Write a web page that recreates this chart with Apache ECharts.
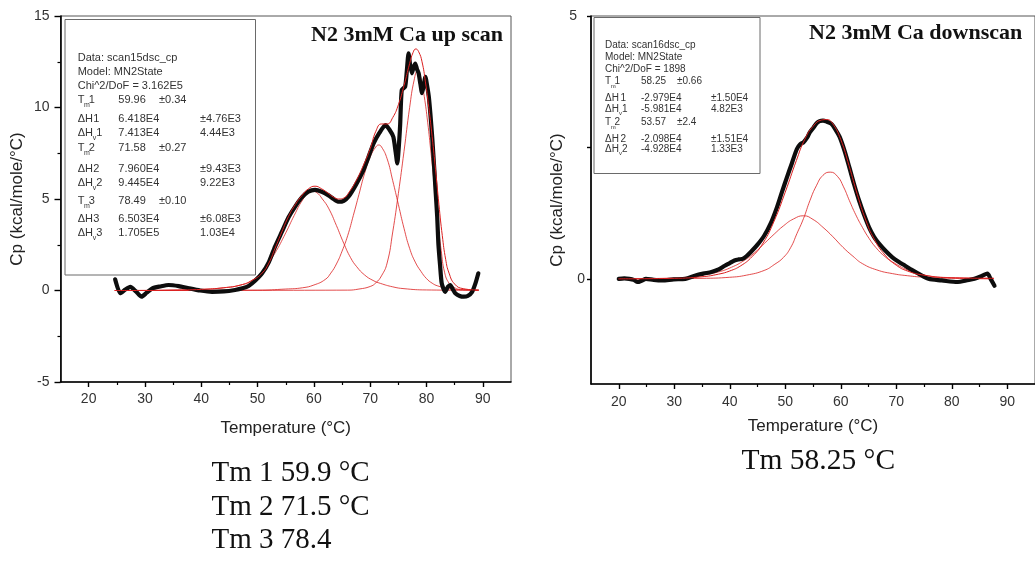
<!DOCTYPE html>
<html>
<head>
<meta charset="utf-8">
<script src="https://cdn.jsdelivr.net/npm/echarts@6/dist/echarts.min.js"></script>
<style>
  html, body { margin: 0; padding: 0; background: #fff; }
  #chart { width: 1035px; height: 563px; }
</style>
</head>
<body>
<div id="chart"></div>
<script>
// ---- Up scan (scan15): measured Cp trace, [temperature °C, Cp kcal/mole/°C] ----
const upScan = [
  [24.7,0.61],[25.6,-0.15],[26.5,0.05],[27.4,0.2],[28.4,-0.05],[29.4,-0.34],[30.3,-0.12],[31.3,0.12],
  [32.7,0.22],[34.2,0.3],[36.0,0.24],[37.8,0.12],[39.8,0.0],[41.9,-0.07],[44.0,-0.05],[46.0,0.03],
  [47.3,0.12],[48.4,0.25],[49.6,0.55],[50.8,0.94],[52.0,1.55],[53.1,2.4],[54.3,3.2],[55.5,4.0],
  [56.7,4.6],[57.9,5.1],[59.0,5.4],[60.2,5.5],[61.4,5.4],[62.6,5.2],[63.5,5.0],[64.4,4.85],
  [65.3,4.9],[66.2,5.15],[67.5,5.8],[68.8,6.58],[69.7,7.3],[70.6,8.04],[71.6,8.6],[72.7,9.04],
  [73.4,8.8],[74.1,8.4],[74.5,7.6],[74.8,6.95],[75.3,8.95],[75.6,10.96],[76.2,11.14],[76.5,12.0],
  [76.8,12.96],[77.1,12.3],[77.4,11.87],[77.7,12.2],[78.0,12.4],[78.3,12.1],[78.6,11.87],[78.9,11.3],
  [79.2,10.78],[79.5,11.2],[79.8,11.68],[80.1,11.2],[80.4,10.6],[80.7,9.6],[81.0,8.4],[81.3,7.0],
  [81.6,5.49],[81.9,4.0],[82.1,2.58],[82.4,1.4],[82.7,0.39],[83.3,-0.07],[83.8,0.2],[84.2,0.3],
  [84.7,0.05],[85.1,-0.15],[85.9,-0.3],[86.6,-0.34],[87.3,-0.3],[88.1,-0.07],[88.7,0.4],[89.2,0.94]
];

// Up scan: total MN2State fit
const upFit = [
  [24.7,0],[30,0],[35,0.02],[40,0.06],[44,0.15],[47,0.3],[49,0.55],[50.8,0.95],[52,1.5],[53.1,2.3],
  [54.3,3.2],[55.5,4.05],[56.7,4.7],[57.9,5.2],[59.0,5.55],[60.2,5.7],[61.4,5.55],[62.6,5.3],[63.5,5.1],
  [64.4,5.0],[65.3,5.05],[66.2,5.35],[67.5,6.0],[68.8,6.85],[70,7.75],[71,8.7],[72,9.1],[73,9.1],
  [74,9.45],[75,10.15],[76,11.2],[77,12.4],[77.6,13.0],[78.1,13.2],[78.6,13.05],[79.2,12.5],[79.8,11.4],
  [80.4,10.0],[81,8.4],[81.6,6.6],[82.2,4.7],[82.8,3.0],[83.4,1.7],[84,0.95],[85,0.35],[86.5,0.1],[89.2,0.02]
];

// Up scan: fitted transitions (Tm 59.96, 71.58, 78.49)
const upPeak1 = [
  [24.7,0],[35,0.02],[40,0.06],[44,0.15],[47,0.3],[49,0.55],[51,1.1],[53,2.0],[55,3.15],[56.5,4.1],
  [58,4.95],[59.4,5.45],[60.5,5.35],[61.5,5.0],[62.6,4.5],[64,3.55],[65.3,2.58],[66.5,1.8],[67.6,1.3],
  [69,0.85],[70.5,0.55],[71.8,0.39],[74,0.2],[76,0.1],[80,0.03],[89.2,0.01]
];
const upPeak2 = [
  [24.7,0],[50,0.02],[55,0.08],[58,0.15],[60,0.3],[62,0.6],[63,0.95],[64,1.45],[65,2.15],[66,3.0],
  [67,4.1],[68,5.25],[69,6.4],[70,7.3],[71,7.85],[71.5,7.95],[72,7.85],[73,7.2],[74,6.0],[75,4.7],
  [76,3.4],[77,2.3],[78,1.55],[79,1.05],[80,0.65],[81,0.4],[82,0.25],[84,0.1],[86,0.04],[89.2,0.02]
];
const upPeak3 = [
  [24.7,0],[66,0.02],[68,0.08],[70,0.22],[71,0.42],[72,0.8],[73,1.5],[74,3.2],[75,5.3],[76,7.6],
  [77,10.0],[77.8,11.5],[78.4,12.0],[79,11.6],[79.6,10.6],[80.2,9.2],[80.8,7.5],[81.4,5.7],[82,3.8],
  [82.6,2.2],[83.2,1.0],[84,0.4],[85,0.15],[86,0.06],[89.2,0.02]
];

// ---- Down scan (scan16): measured Cp trace ----
const downScan = [
  [20.0,0],[21.0,0.01],[21.9,0],[22.7,-0.02],[23.4,-0.06],[24.2,-0.03],[24.9,0],[26.3,-0.02],[27.8,-0.03],
  [29.9,-0.01],[32.0,0],[33.7,0.06],[35.2,0.1],[36.7,0.13],[38.0,0.18],[39.1,0.25],[40.0,0.3],[40.85,0.35],
  [41.6,0.37],[42.3,0.38],[43.0,0.43],[43.8,0.51],[45.0,0.65],[46.2,0.82],[47.4,1.06],[48.5,1.36],
  [49.4,1.65],[50.3,1.93],[51.2,2.2],[52.1,2.47],[52.7,2.56],[53.3,2.6],[53.9,2.68],[54.45,2.79],
  [55.1,2.88],[55.65,2.96],[56.2,3.0],[56.8,3.01],[57.5,2.99],[58.3,2.95],[59.0,2.85],[59.8,2.7],
  [60.7,2.43],[61.55,2.12],[62.4,1.8],[63.3,1.49],[64.2,1.22],[65.1,0.98],[66.0,0.8],[66.9,0.67],
  [68.1,0.53],[69.3,0.41],[70.5,0.32],[71.6,0.25],[72.8,0.17],[74.0,0.1],[75.8,0],[78.2,-0.03],
  [81.1,-0.06],[82.6,-0.03],[84.1,0],[85.5,0.06],[86.4,0.1],[87.0,0],[87.7,-0.13]
];

// Down scan: total fit
const downFit = [
  [20,0],[30,0.01],[35,0.04],[38,0.09],[40,0.15],[42,0.25],[44,0.42],[46,0.68],[48,1.1],[50,1.65],
  [52,2.25],[53.5,2.65],[55,2.9],[56.5,3.02],[57.5,3.03],[58.5,2.96],[60,2.65],[61.5,2.15],[63,1.6],
  [64.5,1.12],[66,0.76],[68,0.45],[70,0.26],[72,0.15],[75,0.07],[80,0.02],[87.5,0.01]
];

// Down scan: fitted transitions (Tm 58.25, 53.57)
const downPeak1 = [
  [20,0],[35,0.01],[40,0.03],[43,0.07],[46.2,0.16],[48,0.27],[49.7,0.41],[51,0.6],[52.1,0.86],
  [53.3,1.15],[54.45,1.49],[55.6,1.77],[56.8,1.97],[58.1,2.03],[59.4,1.95],[60.5,1.75],[61.55,1.49],
  [62.7,1.22],[63.9,0.98],[65.1,0.77],[66.3,0.6],[68,0.42],[69.85,0.29],[72,0.17],[74,0.1],[78,0.03],[87.5,0.01]
];
const downPeak2 = [
  [20,0],[28,0.01],[32.2,0.03],[35,0.07],[37.9,0.13],[40.3,0.22],[42.6,0.35],[44.5,0.5],[46.2,0.67],
  [48,0.85],[49.7,1.01],[51.5,1.14],[53.3,1.2],[55,1.13],[56.8,0.98],[58.6,0.8],[60.4,0.6],[62.2,0.43],
  [63.9,0.29],[66.5,0.17],[69.3,0.1],[72,0.06],[75.2,0.03],[80,0.01],[87.5,0]
];

// ---- Axis ticks ----
const tempMajorTicks = [20, 30, 40, 50, 60, 70, 80, 90];
const tempMinorTicks = [25, 35, 45, 55, 65, 75, 85];
const downCpLabels = [0, 5];
const downCpTicks = [0, 2.5, 5];

// ---- Fit report text ----
const upReport = [
  { text: 'Data: scan15dsc_cp' },
  { text: 'Model: MN2State' },
  { text: 'Chi^2/DoF = 3.162E5' },
  { sym: 'T', sub: 'm', idx: '1', value: '59.96', err: '±0.34', near: true },
  { sym: 'ΔH', idx: '1', value: '6.418E4', err: '±4.76E3' },
  { sym: 'ΔH', sub: 'v', idx: '1', value: '7.413E4', err: '4.44E3' },
  { sym: 'T', sub: 'm', idx: '2', value: '71.58', err: '±0.27', near: true },
  { sym: 'ΔH', idx: '2', value: '7.960E4', err: '±9.43E3' },
  { sym: 'ΔH', sub: 'v', idx: '2', value: '9.445E4', err: '9.22E3' },
  { sym: 'T', sub: 'm', idx: '3', value: '78.49', err: '±0.10', near: true },
  { sym: 'ΔH', idx: '3', value: '6.503E4', err: '±6.08E3' },
  { sym: 'ΔH', sub: 'v', idx: '3', value: '1.705E5', err: '1.03E4' }
];
const downReport = [
  { text: 'Data: scan16dsc_cp' },
  { text: 'Model: MN2State' },
  { text: 'Chi^2/DoF = 1898' },
  { sym: 'T', sub: 'm', idx: '1', value: '58.25', err: '±0.66', near: true },
  { sym: 'ΔH', idx: '1', value: '-2.979E4', err: '±1.50E4' },
  { sym: 'ΔH', sub: 'v', idx: '1', value: '-5.981E4', err: '4.82E3' },
  { sym: 'T', sub: 'm', idx: '2', value: '53.57', err: '±2.4', near: true },
  { sym: 'ΔH', idx: '2', value: '-2.098E4', err: '±1.51E4' },
  { sym: 'ΔH', sub: 'v', idx: '2', value: '-4.928E4', err: '1.33E3' }
];
const upTitle = 'N2 3mM Ca up scan';
const downTitle = 'N2 3mM Ca downscan';
const upSummary = ['Tm 1 59.9 °C', 'Tm 2 71.5 °C', 'Tm 3 78.4'];
const downSummary = ['Tm 58.25 °C'];

// ---- Layout ----
const SANS = '"Liberation Sans", Arial, sans-serif';
const SERIF = '"Liberation Serif", "Times New Roman", serif';
const RED = '#dc1f1f';

const upLayout = {
  box: [65, 19.5, 190.5, 255.5], font: 11, subFont: 7,
  cols: [77.7, 118.3, 159, 200],
  rows: [58.3, 71.7, 86, 100, 118.7, 132.7, 148, 169, 182.7, 201, 219, 232.7],
  tSub: 6.3, tIdx: 11, hSub: 15, hIdx: 18.5, hIdxPlain: 15.5
};
const downLayout = {
  box: [594, 17.5, 166, 156], font: 10, subFont: 6,
  cols: [605, 641, 677, 711],
  rows: [45.7, 57.3, 69.3, 81.7, 98.3, 109, 122.7, 139, 149.3],
  tSub: 5.8, tIdx: 9.5, hSub: 14, hIdx: 17, hIdxPlain: 15.5
};

function txt(x, y, text, font, extra) {
  return {
    type: 'text', z: 110,
    style: Object.assign({
      x: x, y: y, text: text, font: font, fill: '#333',
      textAlign: 'left', align: 'left', textVerticalAlign: 'middle', verticalAlign: 'middle'
    }, extra || {})
  };
}

function reportGraphics(rows, L) {
  const out = [{
    type: 'rect', z: 105,
    shape: { x: L.box[0], y: L.box[1], width: L.box[2], height: L.box[3] },
    style: { fill: '#fff', stroke: '#6a6a6a', lineWidth: 1 }
  }];
  const f = L.font + 'px ' + SANS;
  const fs = L.subFont + 'px ' + SANS;
  rows.forEach((r, i) => {
    const y = L.rows[i];
    const x = L.cols[0];
    if (r.text) { out.push(txt(x, y, r.text, f)); return; }
    out.push(txt(x, y, r.sym, f));
    if (r.sym === 'T') {
      out.push(txt(x + L.tSub, y + L.font * 0.45, r.sub, fs));
      out.push(txt(x + L.tIdx, y, r.idx, f));
    } else if (r.sub) {
      out.push(txt(x + L.hSub, y + L.font * 0.45, r.sub, fs));
      out.push(txt(x + L.hIdx, y, r.idx, f));
    } else {
      out.push(txt(x + L.hIdxPlain, y, r.idx, f));
    }
    out.push(txt(L.cols[1], y, r.value, f));
    out.push(txt(r.near ? L.cols[2] : L.cols[3], y, r.err, f));
  });
  return out;
}

function tempAxis(gridIndex, nameGap, labelMargin) {
  return [{
    type: 'value', gridIndex: gridIndex, min: 15, max: 95,
    position: 'bottom',
    name: 'Temperature (°C)', nameLocation: 'middle', nameGap: nameGap,
    nameTextStyle: { fontFamily: SANS, fontSize: 17, color: '#222' },
    axisLine: { show: true, onZero: false, lineStyle: { color: '#000', width: 1.6 } },
    axisTick: { show: true, inside: false, length: 5, customValues: tempMajorTicks,
                lineStyle: { color: '#000', width: 1.4 } },
    axisLabel: { show: true, margin: labelMargin, customValues: tempMajorTicks,
                 fontFamily: SANS, fontSize: 14, color: '#333' },
    splitLine: { show: false }
  }, {
    type: 'value', gridIndex: gridIndex, min: 15, max: 95,
    position: 'bottom',
    axisLine: { show: false, onZero: false },
    axisTick: { show: true, inside: false, length: 3, customValues: tempMinorTicks,
                lineStyle: { color: '#000', width: 1.2 } },
    axisLabel: { show: false },
    splitLine: { show: false }
  }];
}

function line(xAxisIndex, yAxisIndex, data, color, width, smooth, z) {
  return {
    type: 'line', xAxisIndex: xAxisIndex, yAxisIndex: yAxisIndex, data: data,
    symbol: 'none', smooth: smooth, z: z, silent: true,
    lineStyle: { color: color, width: width, join: 'round', cap: 'round' }
  };
}

const chart = echarts.init(document.getElementById('chart'), null, { renderer: 'canvas' });

const graphics = []
  .concat(reportGraphics(upReport, upLayout))
  .concat(reportGraphics(downReport, downLayout))
  .concat([
    txt(503, 35, upTitle, 'bold 22px ' + SERIF, { fill: '#111', textAlign: 'right', align: 'right' }),
    txt(809, 33, downTitle, 'bold 22px ' + SERIF, { fill: '#111' })
  ])
  .concat(upSummary.map((s, i) => txt(211.5, [473, 507.5, 540.5][i], s, '29px ' + SERIF, { fill: '#111' })))
  .concat(downSummary.map((s) => txt(741.5, 461.5, s, '29.5px ' + SERIF, { fill: '#111' })));

chart.setOption({
  animation: false,
  backgroundColor: '#fff',
  grid: [
    { left: 60.5, top: 16, width: 450.5, height: 366, show: true, borderColor: '#555', borderWidth: 1, backgroundColor: 'transparent' },
    { left: 591, top: 16, width: 450, height: 368, show: true, borderColor: '#555', borderWidth: 1, backgroundColor: 'transparent' }
  ],
  xAxis: [].concat(tempAxis(0, 38, 10)).concat(tempAxis(1, 34, 11)),
  yAxis: [{
    type: 'value', gridIndex: 0, min: -5, max: 15, interval: 5,
    name: 'Cp (kcal/mole/°C)', nameLocation: 'middle', nameGap: 35, nameRotate: 90,
    nameTextStyle: { fontFamily: SANS, fontSize: 17, color: '#222' },
    axisLine: { show: true, onZero: false, lineStyle: { color: '#000', width: 1.6 } },
    axisTick: { show: true, inside: false, length: 6, lineStyle: { color: '#000', width: 1.4 } },
    minorTick: { show: true, splitNumber: 2, length: 3, lineStyle: { color: '#000', width: 1.2 } },
    axisLabel: { margin: 11, fontFamily: SANS, fontSize: 14, color: '#333' },
    splitLine: { show: false }, minorSplitLine: { show: false }
  }, {
    type: 'value', gridIndex: 1, min: -2, max: 5,
    name: 'Cp (kcal/mole/°C)', nameLocation: 'middle', nameGap: 21, nameRotate: 90,
    nameTextStyle: { fontFamily: SANS, fontSize: 17, color: '#222' },
    axisLine: { show: true, onZero: false, lineStyle: { color: '#000', width: 1.6 } },
    axisTick: { show: true, inside: false, length: 4, customValues: downCpTicks, lineStyle: { color: '#000', width: 1.4 } },
    axisLabel: {
      margin: 6, customValues: downCpLabels, fontFamily: SANS, fontSize: 14, color: '#333',
      formatter: (v) => (v === 5 ? '{far|5}' : String(v)),
      rich: { far: { fontFamily: SANS, fontSize: 14, color: '#333', padding: [0, 8, 0, 0] } }
    },
    splitLine: { show: false }
  }],
  series: [
    line(0, 0, upPeak1, RED, 0.8, true, 2),
    line(0, 0, upPeak2, RED, 0.8, true, 2),
    line(0, 0, upPeak3, RED, 0.8, true, 2),
    line(0, 0, upScan, '#0d0d0d', 4.2, 0.2, 3),
    line(0, 0, upFit, RED, 1, true, 4),
    line(2, 1, downPeak1, RED, 0.8, true, 2),
    line(2, 1, downPeak2, RED, 0.8, true, 2),
    line(2, 1, downScan, '#0d0d0d', 4.2, 0.3, 3),
    line(2, 1, downFit, RED, 1, true, 4)
  ],
  graphic: graphics
});
</script>
</body>
</html>
